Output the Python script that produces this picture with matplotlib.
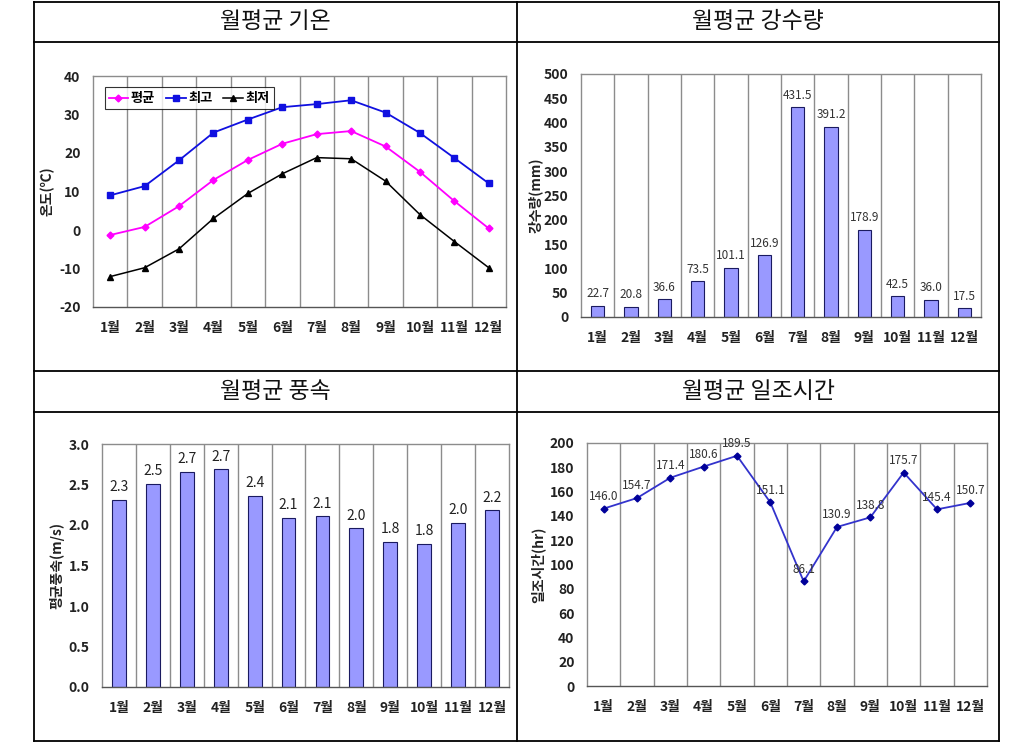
import numpy as np
import matplotlib
matplotlib.use("Agg")
import matplotlib.pyplot as plt
from matplotlib.lines import Line2D

plt.rcParams['font.family'] = ['Noto Sans CJK KR', 'DejaVu Sans']
plt.rcParams['axes.unicode_minus'] = False

# data
months = ['1월', '2월', '3월', '4월', '5월', '6월', '7월', '8월', '9월', '10월', '11월', '12월']
temp_avg = [-1.3, 0.8, 6.2, 13.0, 18.2, 22.4, 24.9, 25.7, 21.7, 15.1, 7.5, 0.4]
temp_max = [9.0, 11.4, 18.1, 25.3, 28.7, 31.9, 32.7, 33.7, 30.5, 25.2, 18.7, 12.1]
temp_min = [-12.1, -9.8, -4.9, 3.0, 9.5, 14.6, 18.8, 18.5, 12.7, 4.0, -3.0, -9.8]
rain = [22.7, 20.8, 36.6, 73.5, 101.1, 126.9, 431.5, 391.2, 178.9, 42.5, 36.0, 17.5]
wind = [2.31, 2.51, 2.66, 2.69, 2.36, 2.09, 2.11, 1.96, 1.79, 1.77, 2.03, 2.18]
sun = [146.0, 154.7, 171.4, 180.6, 189.5, 151.1, 86.1, 130.9, 138.8, 175.7, 145.4, 150.7]
titles = ['월평균 기온', '월평균 강수량', '월평균 풍속', '월평균 일조시간']

W, H = 1028, 747
fig = plt.figure(figsize=(W / 100, H / 100), dpi=100)

def rect(l, t, r, b):
    return [l / W, 1 - b / H, (r - l) / W, (b - t) / H]

# table frame drawn on a background axes in pixel units
bg = fig.add_axes([0, 0, 1, 1], zorder=-1)
bg.set_xlim(0, W)
bg.set_ylim(H, 0)
bg.axis('off')
xl, xm, xr = 34, 517, 999
rows = [2, 42, 371, 412, 741]
for y in rows:
    bg.add_line(Line2D([xl, xr], [y, y], color='black', lw=1.3))
for x in [xl, xm, xr]:
    bg.add_line(Line2D([x, x], [rows[0], rows[-1]], color='black', lw=1.3))
tkw = dict(ha='center', va='center', fontsize=16.5, color='#111111')
bg.text((xl + xm) / 2, 22, titles[0], **tkw)
bg.text((xm + xr) / 2, 22, titles[1], **tkw)
bg.text((xl + xm) / 2, 391, titles[2], **tkw)
bg.text((xm + xr) / 2, 391, titles[3], **tkw)

x = np.arange(len(months))

def style(ax, ylim, step):
    ax.set_xlim(-0.5, len(months) - 0.5)
    ax.set_ylim(*ylim)
    ax.set_yticks(np.arange(ylim[0], ylim[1] + step / 2, step))
    ax.set_xticks(x)
    ax.set_xticklabels(months)
    ax.set_xticks(np.arange(0.5, len(months) - 1, 1), minor=True)
    ax.grid(True, which='minor', axis='x', color='#8c8c8c', lw=1)
    ax.tick_params(which='both', length=0, labelsize=10, colors='#222222')
    ax.tick_params(axis='x', pad=10)
    ax.tick_params(axis='y', pad=9)
    for lab in ax.get_xticklabels() + ax.get_yticklabels():
        lab.set_fontweight('bold')
    for s in ax.spines.values():
        s.set_color('#8c8c8c')
        s.set_linewidth(1)
    ax.spines['bottom'].set_color('#555555')
    ax.set_axisbelow(True)

ykw = dict(fontsize=10, fontweight='bold', color='#222222')

# 1) temperature
ax1 = fig.add_axes(rect(93, 76, 506, 307))
style(ax1, (-20, 40), 10)
ax1.plot(x, temp_avg, color='#ff00ff', marker='D', ms=3.5, lw=1.3, label='평균')
ax1.plot(x, temp_max, color='#1010e0', marker='s', ms=4, lw=1.3, label='최고')
ax1.plot(x, temp_min, color='black', marker='^', ms=4.5, lw=1.1, label='최저')
ax1.set_ylabel('온도(℃)', labelpad=3, **ykw)
leg = ax1.legend(loc='upper left', ncol=3, frameon=True, fancybox=False,
                 edgecolor='black', handlelength=1.5, handletextpad=0.2,
                 columnspacing=0.8, borderpad=0.3, bbox_to_anchor=(0.012, 0.98),
                 prop={'size': 9.5, 'weight': 'bold'})
leg.get_frame().set_linewidth(0.8)

# 2) precipitation
ax2 = fig.add_axes(rect(581, 74, 981, 317))
style(ax2, (0, 500), 50)
bars = ax2.bar(x, rain, width=0.4, color='#9999ff', edgecolor='#1a1a60', lw=0.8)
ax2.bar_label(bars, labels=['%.1f' % v for v in rain], padding=4, fontsize=8.5, color='#333333')
ax2.set_ylabel('강수량(mm)', labelpad=1, **ykw)

# 3) wind speed
ax3 = fig.add_axes(rect(102, 444, 509, 687))
style(ax3, (0, 3.0), 0.5)
ax3.set_yticklabels(['%.1f' % v for v in np.arange(0, 3.01, 0.5)], fontweight='bold')
bars = ax3.bar(x, wind, width=0.41, color='#9999ff', edgecolor='#1a1a60', lw=0.8)
ax3.bar_label(bars, labels=['%.1f' % v for v in wind], padding=4, fontsize=10, color='#222222')
ax3.set_ylabel('평균풍속(m/s)', labelpad=3, **ykw)

# 4) sunshine hours
ax4 = fig.add_axes(rect(587, 443, 987, 686))
style(ax4, (0, 200), 20)
ax4.plot(x, sun, color='#3333cc', marker='D', ms=3.5, mfc='#000099', mec='#000099', lw=1.3)
for i, v in enumerate(sun):
    ax4.annotate('%.1f' % v, (x[i], v), xytext=(0, 4), textcoords='offset points',
                 ha='center', va='bottom', fontsize=8.5, color='#333333')
ax4.set_ylabel('일조시간(hr)', labelpad=3, **ykw)

fig.savefig('out.png', dpi=100)
